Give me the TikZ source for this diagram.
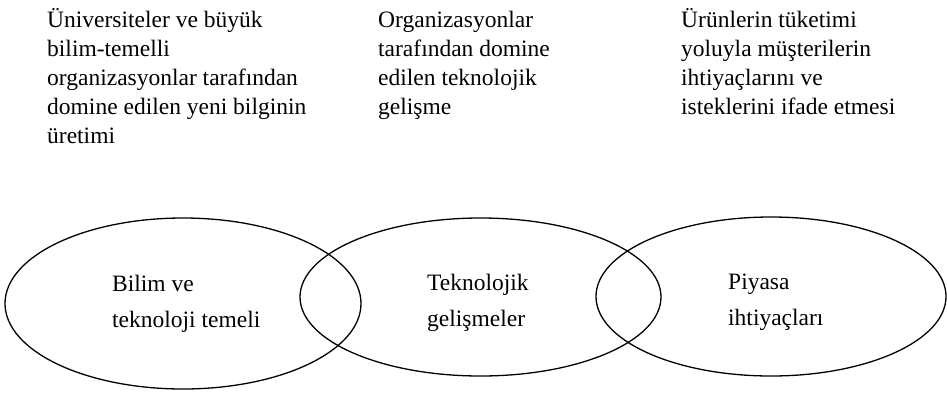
\documentclass[tikz,border=0pt]{standalone}
\usepackage{fontspec}
\setmainfont{Liberation Serif}
\usetikzlibrary{shapes.geometric}
\begin{document}
\begin{tikzpicture}[x=1pt,y=-1pt,
  circ/.style={ellipse,draw,line width=1.3pt,inner sep=0pt},
  toptext/.style={anchor=base west,align=left,inner sep=0pt,font=\fontsize{23.5pt}{29pt}\selectfont},
  intext/.style={anchor=base west,align=left,inner sep=0pt,font=\fontsize{23.5pt}{36pt}\selectfont}]
\useasboundingbox (0,0) rectangle (947,394);
\node[circ,minimum width=356pt,minimum height=171pt] (e1) at (183,303.5) {};
\node[circ,minimum width=361pt,minimum height=158pt] (e2) at (480.5,297) {};
\node[circ,minimum width=350pt,minimum height=159pt] (e3) at (771,296.5) {};
\node[intext] (t1) at (112,327) {Bilim ve\\teknoloji temeli};
\node[intext] (t2) at (427,326) {Teknolojik\\gelişmeler};
\node[intext] (t3) at (728,325) {Piyasa\\ihtiyaçları};
\node[toptext] (d1) at (47,143) {Üniversiteler ve büyük\\bilim-temelli\\organizasyonlar tarafından\\domine edilen yeni bilginin\\üretimi};
\node[toptext] (d2) at (378,114) {Organizasyonlar\\tarafından domine\\edilen teknolojik\\gelişme};
\node[toptext] (d3) at (681,114) {Ürünlerin tüketimi\\yoluyla müşterilerin\\ihtiyaçlarını ve\\isteklerini ifade etmesi};
\end{tikzpicture}
\end{document}
